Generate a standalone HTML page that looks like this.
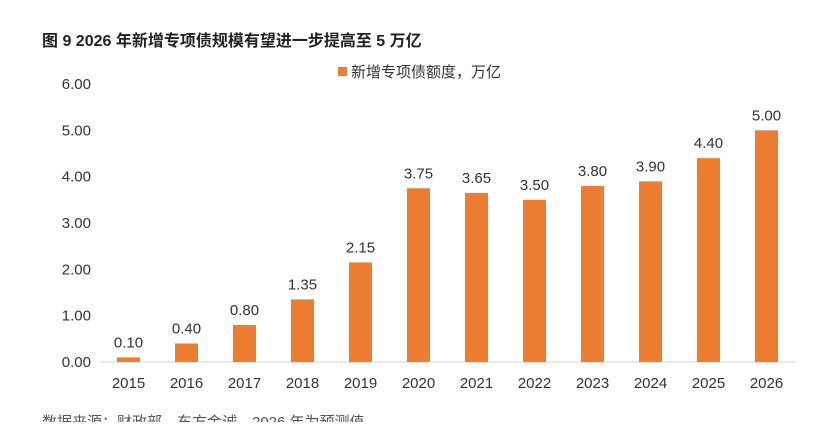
<!DOCTYPE html>
<html><head><meta charset="utf-8"><style>
body{margin:0;background:#fff;width:818px;height:422px;overflow:hidden;font-family:"Liberation Sans","Noto Sans CJK SC",sans-serif;}
</style></head><body>
<svg width="818" height="422" xmlns="http://www.w3.org/2000/svg" style="font-family:'Liberation Sans','Noto Sans CJK SC',sans-serif">
<text x="42" y="46" font-size="16" font-weight="bold" fill="#222">图 9  2026 年新增专项债规模有望进一步提高至 5 万亿</text>
<rect x="338" y="67" width="9" height="9" fill="#ED7D31"/>
<text x="351" y="77" font-size="15" fill="#333">新增专项债额度，万亿</text>
<g id="yaxis"></g>
<line x1="100" y1="362" x2="796" y2="362" stroke="#d9d9d9" stroke-width="1.2"/>
<g id="bars"></g>
<text x="42" y="427" font-size="15" fill="#555">数据来源：财政部，东方金诚，2026 年为预测值</text>
</svg>
<script>
const categories=["2015","2016","2017","2018","2019","2020","2021","2022","2023","2024","2025","2026"];
const values=[0.10,0.40,0.80,1.35,2.15,3.75,3.65,3.50,3.80,3.90,4.40,5.00];
const yTicks=[0,1,2,3,4,5,6];
const NS="http://www.w3.org/2000/svg";
function y(v){return 362-v*(278/6);}
function x(i){return 128.5+i*58;}
const ya=document.getElementById('yaxis'),bg=document.getElementById('bars');
yTicks.forEach(t=>{const e=document.createElementNS(NS,'text');


e.setAttribute('x',91);e.setAttribute('y',y(t)+5);e.setAttribute('text-anchor','end');e.setAttribute('font-size','15');e.setAttribute('fill','#333');e.textContent=t.toFixed(2);ya.appendChild(e);});
values.forEach((v,i)=>{const r=document.createElementNS(NS,'rect');


r.setAttribute('x',x(i)-11.5);r.setAttribute('y',y(v));r.setAttribute('width',23);r.setAttribute('height',362-y(v));r.setAttribute('fill','#ED7D31');bg.appendChild(r);
const l=document.createElementNS(NS,'text');


l.setAttribute('x',x(i));l.setAttribute('y',y(v)-10);l.setAttribute('text-anchor','middle');l.setAttribute('font-size','15');l.setAttribute('fill','#333');l.textContent=v.toFixed(2);bg.appendChild(l);
const c=document.createElementNS(NS,'text');


c.setAttribute('x',x(i));c.setAttribute('y',388);c.setAttribute('text-anchor','middle');c.setAttribute('font-size','15');c.setAttribute('fill','#333');c.textContent=categories[i];bg.appendChild(c);});
</script>
</body></html>
